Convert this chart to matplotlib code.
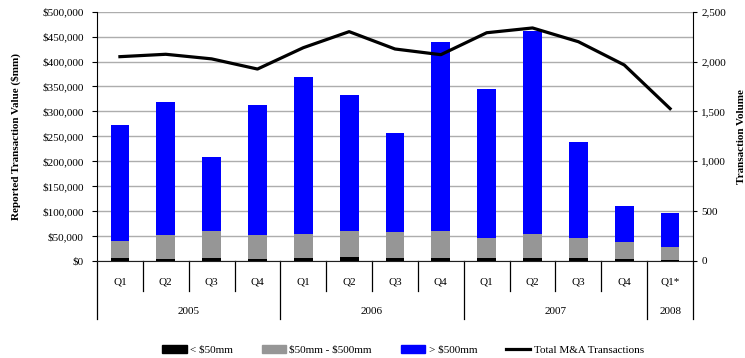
import matplotlib
matplotlib.use("Agg")
import matplotlib.pyplot as plt
from matplotlib.ticker import FuncFormatter
from matplotlib.patches import Patch
from matplotlib.lines import Line2D
import matplotlib.transforms as mtrans
import numpy as np

quarters = ["Q1", "Q2", "Q3", "Q4", "Q1", "Q2", "Q3", "Q4", "Q1", "Q2", "Q3", "Q4", "Q1*"]
years = ["2005", "2006", "2007", "2008"]
year_counts = [4, 4, 4, 1]

small = [6000, 4000, 6000, 4000, 6000, 8000, 6000, 6000, 6000, 6000, 6000, 4000, 2000]
mid = [34000, 48000, 54000, 48000, 48000, 52000, 52000, 54000, 40000, 48000, 40000, 34000, 26000]
large = [233000, 267000, 149000, 261000, 315000, 273000, 199000, 379000, 299000, 407000, 193000, 72000, 68000]
volume = [2049, 2073, 2027, 1925, 2139, 2300, 2126, 2069, 2289, 2337, 2199, 1966, 1528]

plt.rcParams['font.family'] = ['Liberation Serif', 'DejaVu Serif']
plt.rcParams['text.parse_math'] = False
FS = 8

fig = plt.figure(figsize=(7.45, 3.58), dpi=100)
ax = fig.add_axes([97/745, 1 - 261/358, 596/745, 249.3/358])
ax2 = ax.twinx()

x = np.arange(len(quarters))
w = 0.41
small_a = np.array(small); mid_a = np.array(mid); large_a = np.array(large)
ax.bar(x, small_a, w, color="black", zorder=3)
ax.bar(x, mid_a, w, bottom=small_a, color="#969696", zorder=3)
ax.bar(x, large_a, w, bottom=small_a + mid_a, color="#0000FF", zorder=3)
ax2.plot(x, volume, color="black", lw=2.3, zorder=4)

ax.set_xlim(-0.5, len(quarters) - 0.5)
ax.set_ylim(0, 500000)
ax2.set_ylim(0, 2500)
ax.set_yticks(np.arange(0, 500001, 50000))
ax2.set_yticks(np.arange(0, 2501, 500))
ax.yaxis.set_major_formatter(FuncFormatter(lambda v, p: f"${int(v):,}"))
ax2.yaxis.set_major_formatter(FuncFormatter(lambda v, p: f"{int(v):,}"))
ax.grid(axis='y', color="#ADADAD", lw=1.0, zorder=0)
ax.set_axisbelow(True)

for a in (ax, ax2):
    a.spines['top'].set_visible(False)
    a.set_xticks([])
ax.tick_params(axis='y', labelsize=FS, length=3.5, width=0.8, direction='out', pad=6)
ax2.tick_params(axis='y', labelsize=FS, length=3, width=0.8, direction='out', pad=3)
ax.spines['right'].set_visible(False)
ax2.spines['left'].set_visible(False)
ax.spines['bottom'].set_color("#202020")
ax2.spines['bottom'].set_visible(False)
ax.spines['left'].set_color("black")
ax2.spines['right'].set_color("black")

ax.set_ylabel("Reported Transaction Value ($mm)", fontsize=FS, fontweight='bold')
ax.yaxis.set_label_coords((21 - 97) / 596, 0.5)
ax2.set_ylabel("Transaction Volume", fontsize=FS, fontweight='bold')
ax2.yaxis.set_label_coords((737 - 97) / 596, 0.5)

# category axis drawing
trans = mtrans.blended_transform_factory(ax.transData, ax.transAxes)
h = 249.3
q_drop = -30 / h
y_drop = -58 / h
ax.plot([-0.5, -0.5], [0, y_drop], transform=trans, color="black", lw=0.9, clip_on=False)
ax.plot([len(quarters) - 0.5] * 2, [0, y_drop], transform=trans, color="black", lw=0.9, clip_on=False)
bounds = np.cumsum(year_counts)
for i in range(1, len(quarters)):
    b = i - 0.5
    if i in bounds:
        ax.plot([b, b], [0, y_drop], transform=trans, color="black", lw=0.9, clip_on=False)
    else:
        ax.plot([b, b], [0, q_drop], transform=trans, color="black", lw=0.9, clip_on=False)
for i, q in enumerate(quarters):
    ax.text(i, -21.5 / h, q, transform=trans, ha='center', va='center', fontsize=FS)
start = 0
for yname, c in zip(years, year_counts):
    center = start + (c - 1) / 2
    ax.text(center, -50.5 / h, yname, transform=trans, ha='center', va='center', fontsize=FS)
    start += c

handles = [Patch(color="black"), Patch(color="#969696"), Patch(color="#0000FF"),
           Line2D([0], [0], color="black", lw=2.3)]
labels = ["< $50mm", "$50mm - $500mm", "> $500mm", "Total M&A Transactions"]
fig.legend(handles, labels, ncol=4, loc='center', bbox_to_anchor=(403/745, 1 - 350/358),
           frameon=False, fontsize=FS, handlelength=2.2, handletextpad=0.3, columnspacing=2.6)

fig.savefig("out.png", dpi=100)
